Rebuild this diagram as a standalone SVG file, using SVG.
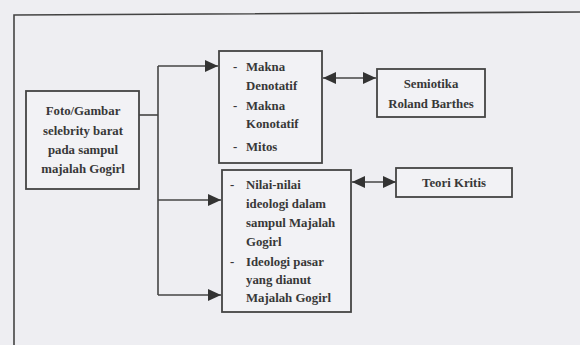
<svg xmlns="http://www.w3.org/2000/svg" width="580" height="345" viewBox="0 0 580 345">
<defs>
<marker id="ah" viewBox="0 0 13 12" refX="13" refY="6" markerWidth="13" markerHeight="12" markerUnits="userSpaceOnUse" orient="auto-start-reverse">
<path d="M0,0 L13,6 L0,12 Z" fill="#333"/>
</marker>
</defs>
<style>
.bg{fill:#eeeef2}
.box{fill:#f2f2f5;stroke:#444;stroke-width:1.8}
.ln{fill:none;stroke:#444;stroke-width:1.6}
.t{font-family:"Liberation Serif",serif;font-weight:bold;font-size:12.8px;fill:#383838}
.c{text-anchor:middle}
</style>
<rect class="bg" x="0" y="0" width="580" height="345"/>
<path class="ln" d="M14,345 L14,15 L580,12" stroke-width="2"/>
<g id="connectors">
<path class="ln" d="M139,115 H158"/>
<path class="ln" d="M158,66 V295"/>
<path class="ln" d="M158,66 H218" marker-end="url(#ah)"/>
<path class="ln" d="M158,200 H221" marker-end="url(#ah)"/>
<path class="ln" d="M158,295 H221" marker-end="url(#ah)"/>
<path class="ln" d="M323,78 H376" marker-start="url(#ah)" marker-end="url(#ah)"/>
<path class="ln" d="M352,182 H396" marker-start="url(#ah)" marker-end="url(#ah)"/>
</g>
<g id="source">
<rect class="box" x="26" y="91" width="113" height="98"/>
<text class="t c" x="83" y="115">Foto/Gambar</text>
<text class="t c" x="83" y="135">selebrity barat</text>
<text class="t c" x="83" y="154">pada sampul</text>
<text class="t c" x="83" y="173">majalah Gogirl</text>
</g>
<g id="makna">
<rect class="box" x="219" y="51" width="103" height="112"/>
<text class="t" x="233" y="71">-</text><text class="t" x="246" y="71">Makna</text>
<text class="t" x="246" y="90">Denotatif</text>
<text class="t" x="233" y="110">-</text><text class="t" x="246" y="110">Makna</text>
<text class="t" x="246" y="128">Konotatif</text>
<text class="t" x="233" y="151">-</text><text class="t" x="246" y="151">Mitos</text>
</g>
<g id="ideologi">
<rect class="box" x="222" y="170" width="129" height="142"/>
<text class="t" x="230" y="189">-</text><text class="t" x="246" y="189">Nilai-nilai</text>
<text class="t" x="246" y="208">ideologi dalam</text>
<text class="t" x="246" y="227">sampul Majalah</text>
<text class="t" x="246" y="246">Gogirl</text>
<text class="t" x="230" y="266">-</text><text class="t" x="246" y="266">Ideologi pasar</text>
<text class="t" x="246" y="284">yang dianut</text>
<text class="t" x="246" y="302">Majalah Gogirl</text>
</g>
<g id="semiotika">
<rect class="box" x="377" y="69" width="108" height="48"/>
<text class="t c" x="431" y="88">Semiotika</text>
<text class="t c" x="431" y="108">Roland Barthes</text>
</g>
<g id="teori">
<rect class="box" x="396" y="168" width="116" height="29"/>
<text class="t c" x="454" y="187">Teori Kritis</text>
</g>
</svg>
